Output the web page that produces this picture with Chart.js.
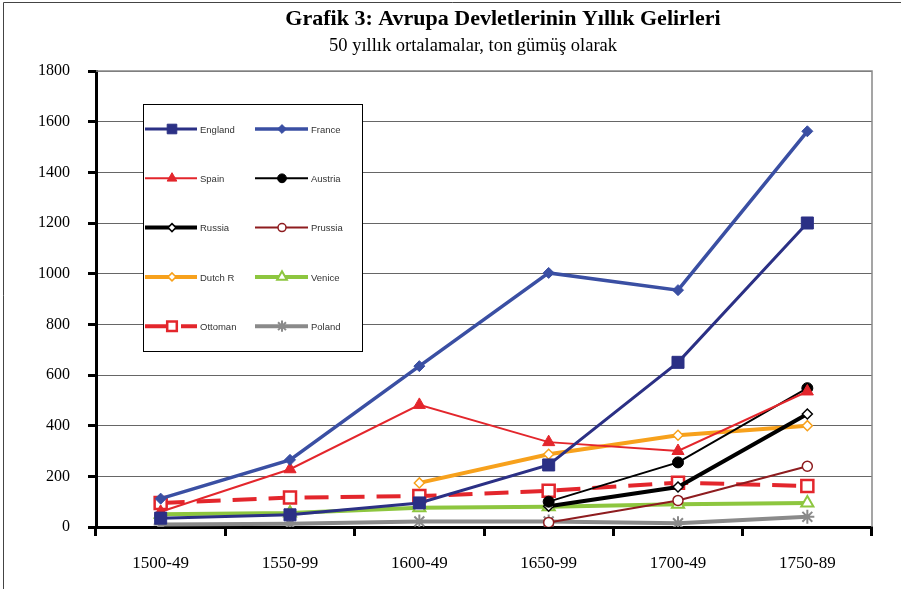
<!DOCTYPE html>
<html>
<head>
<meta charset="utf-8">
<script src="https://cdn.jsdelivr.net/npm/chart.js@4.4.1/dist/chart.umd.min.js"></script>
<style>
    html, body { margin: 0; padding: 0; background: #fff; }
    #wrap { width: 901px; height: 589px; }
</style>
</head>
<body>
<div id="wrap"><canvas id="revenueChart" width="901" height="589"></canvas></div>
<script>
// periods (50-year averages)
const periods = ['1500-49', '1550-99', '1600-49', '1650-99', '1700-49', '1750-89'];
const yTicks = [0, 200, 400, 600, 800, 1000, 1200, 1400, 1600, 1800];

// tons of silver
const england = [35, 48, 95, 245, 650, 1200];
const france  = [112, 265, 635, 1003, 935, 1562];
const spain   = [60, 228, 482, 335, 300, 535];
const austria = [null, null, null, 100, 255, 548];
const russia  = [null, null, null, 82, 158, 446];
const prussia = [null, null, null, 18, 105, 240];
const dutchR  = [null, null, 174, 287, 362, 400];
const venice  = [50, 55, 76, 80, 90, 95];
const ottoman = [95, 116, 122, 143, 175, 162];
const poland  = [10, 13, 22, 22, 15, 40];

const titleText = 'Grafik 3: Avrupa Devletlerinin Yıllık Gelirleri';
const subtitleText = '50 yıllık ortalamalar, ton gümüş olarak';

function series(label, data, color, width, style, radius, fill, pointBorder, dash) {
    return {
        label: label,
        data: data,
        borderColor: color,
        borderWidth: width,
        borderDash: dash || [],
        pointStyle: style,
        pointRadius: radius,
        pointHoverRadius: radius,
        pointBackgroundColor: fill,
        pointBorderColor: color,
        pointBorderWidth: pointBorder,
        tension: 0,
        spanGaps: false
    };
}

const datasets = [
    series('England', england, '#2b3085', 3, 'rect', 8.5, '#2b3085', 1),
    series('France', france, '#3a4fa3', 3.5, 'rectRot', 5.5, '#3a4fa3', 1),
    series('Spain', spain, '#e3262c', 2, 'triangle', 7, '#e3262c', 1),
    series('Austria', austria, '#000000', 2, 'circle', 5.5, '#000000', 1),
    series('Russia', russia, '#000000', 4, 'rectRot', 5, '#ffffff', 1.5),
    series('Prussia', prussia, '#8e1c1f', 2, 'circle', 5, '#ffffff', 1.5),
    series('Dutch R', dutchR, '#f7a11c', 4, 'rectRot', 5, '#ffffff', 1.5),
    series('Venice', venice, '#8dc63f', 4, 'triangle', 7, '#ffffff', 2),
    series('Ottoman', ottoman, '#e3262c', 4, 'rect', 8.5, '#ffffff', 2.5, [24, 12]),
    series('Poland', poland, '#8a8a8a', 4, 'star', 7, '#ffffff', 2)
];

// frame, title, plot border and the boxed legend inside the plot
const decorPlugin = {
    id: 'decor',
    beforeDraw(chart) {
        const ctx = chart.ctx;
        ctx.save();
        ctx.strokeStyle = '#444';
        ctx.lineWidth = 1;
        ctx.beginPath();
        ctx.moveTo(3.5, 589);
        ctx.lineTo(3.5, 2.5);
        ctx.lineTo(901, 2.5);
        ctx.stroke();

        ctx.fillStyle = '#000';
        ctx.textAlign = 'center';
        ctx.textBaseline = 'middle';
        ctx.font = 'bold 22px "Liberation Serif"';
        ctx.fillText(titleText, 503, 19);
        ctx.font = '18.5px "Liberation Serif"';
        ctx.fillText(subtitleText, 473, 46);
        ctx.restore();
    },
    beforeDatasetsDraw(chart) {
        const { ctx, chartArea } = chart;
        ctx.save();
        ctx.strokeStyle = '#888';
        ctx.lineWidth = 1.5;
        ctx.beginPath();
        ctx.moveTo(chartArea.left, chartArea.top);
        ctx.lineTo(chartArea.right, chartArea.top);
        ctx.lineTo(chartArea.right, chartArea.bottom);
        ctx.stroke();
        ctx.restore();
    },
    afterDatasetsDraw(chart) {
        const ctx = chart.ctx;
        const box = { x: 143.5, y: 104.5, w: 219, h: 247 };
        ctx.save();
        ctx.fillStyle = '#fff';
        ctx.fillRect(box.x, box.y, box.w, box.h);
        ctx.strokeStyle = '#000';
        ctx.lineWidth = 1;
        ctx.strokeRect(box.x, box.y, box.w, box.h);

        const cols = [{ x0: 145, x1: 197, mx: 172, tx: 200 }, { x0: 255, x1: 308, mx: 282, tx: 311 }];
        chart.data.datasets.forEach((ds, i) => {
            const c = cols[i % 2];
            const y = 129 + Math.floor(i / 2) * 49.3;
            ctx.strokeStyle = ds.borderColor;
            ctx.lineWidth = ds.borderWidth;
            ctx.setLineDash(ds.borderDash.length ? [26, 10] : []);
            ctx.beginPath();
            ctx.moveTo(c.x0, y);
            ctx.lineTo(c.x1, y);
            ctx.stroke();
            ctx.setLineDash([]);

            ctx.fillStyle = ds.pointBackgroundColor;
            ctx.strokeStyle = ds.pointBorderColor;
            ctx.lineWidth = ds.pointBorderWidth;
            Chart.helpers.drawPoint(ctx, {
                pointStyle: ds.pointStyle,
                radius: ds.pointRadius * 0.8,
                rotation: 0,
                borderWidth: ds.pointBorderWidth
            }, c.mx, y);

            ctx.fillStyle = '#333';
            ctx.font = '9.5px "Liberation Sans"';
            ctx.textAlign = 'left';
            ctx.textBaseline = 'middle';
            ctx.fillText(ds.label, c.tx, y + 1);
        });
        ctx.restore();
    }
};

const ctx = document.getElementById('revenueChart').getContext('2d');
new Chart(ctx, {
    type: 'line',
    data: { labels: periods, datasets: datasets },
    options: {
        responsive: false,
        animation: false,
        events: [],
        layout: { padding: { top: 71, right: 29, left: 0, bottom: 0 } },
        plugins: {
            legend: { display: false },
            title: { display: false },
            tooltip: { enabled: false }
        },
        scales: {
            x: {
                offset: true,
                grid: {
                    offset: true,
                    drawOnChartArea: false,
                    drawTicks: true,
                    tickLength: 9,
                    tickWidth: 3,
                    tickColor: '#000'
                },
                border: { display: true, color: '#000', width: 3 },
                ticks: {
                    color: '#000',
                    padding: 17,
                    maxRotation: 0,
                    font: { family: '"Liberation Serif"', size: 17 }
                },
                afterFit(scale) { scale.height = 62; }
            },
            y: {
                min: 0,
                max: 1800,
                afterBuildTicks(scale) { scale.ticks = yTicks.map(v => ({ value: v })); },
                grid: {
                    color: '#666',
                    lineWidth: 1,
                    drawTicks: true,
                    tickLength: 8,
                    tickWidth: 3,
                    tickColor: '#000'
                },
                border: { display: true, color: '#000', width: 3 },
                ticks: {
                    color: '#000',
                    padding: 18,
                    font: { family: '"Liberation Serif"', size: 16 },
                    callback: (value) => String(value)
                },
                afterFit(scale) { scale.width = 96; }
            }
        }
    },
    plugins: [decorPlugin]
});
</script>
</body>
</html>
